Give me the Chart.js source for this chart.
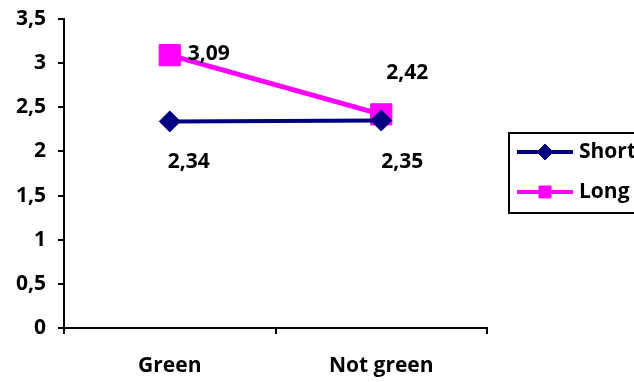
<!DOCTYPE html>
<html>
<head>
<meta charset="utf-8">
<script src="https://cdn.jsdelivr.net/npm/chart.js@4"></script>
<style>
  html, body { margin: 0; padding: 0; background: #fff; }
  #wrap { width: 634px; height: 382px; position: relative; }
</style>
</head>
<body>
<div id="wrap"><canvas id="c" width="634" height="382"></canvas></div>
<script>
// Categories and series values
const categories = ['Green', 'Not green'];
const shortValues = [2.34, 2.35];
const longValues = [3.09, 2.42];
const seriesNames = ['Short', 'Long'];
const yTicks = [0, 0.5, 1, 1.5, 2, 2.5, 3, 3.5];

const NAVY = '#000080';
const MAGENTA = '#FF00FF';
const FONT = { family: '"Open Sans", sans-serif', weight: 'bold', size: 21 };

const fmt = v => String(v).replace('.', ',');

// Value labels drawn beside each point (offsets in pixels from the point)
const labelOffsets = [
  [[19, 41], [21, 41]],
  [[39, -1], [26, -41]]
];

const valueLabels = {
  id: 'valueLabels',
  afterDatasetsDraw(chart) {
    const ctx = chart.ctx;
    ctx.save();
    ctx.font = `${FONT.weight} ${FONT.size}px ${FONT.family}`;
    ctx.fillStyle = '#000';
    ctx.textAlign = 'center';
    ctx.textBaseline = 'middle';
    chart.data.datasets.forEach((ds, di) => {
      const meta = chart.getDatasetMeta(di);
      meta.data.forEach((pt, i) => {
        const [dx, dy] = labelOffsets[di][i];
        ctx.fillText(fmt(ds.data[i]), pt.x + dx, pt.y + dy);
      });
    });
    ctx.restore();
  }
};

// Boxed legend with line + marker samples
const boxLegend = {
  id: 'boxLegend',
  afterDraw(chart) {
    const ctx = chart.ctx;
    ctx.save();
    ctx.strokeStyle = '#000';
    ctx.lineWidth = 2;
    ctx.strokeRect(509, 133, 140, 80);
    const rows = [
      { y: 152, color: NAVY, style: 'rectRot', r: 8, lw: 4 },
      { y: 192, color: MAGENTA, style: 'rect', r: 8.5, lw: 4 }
    ];
    rows.forEach((row, i) => {
      ctx.strokeStyle = row.color;
      ctx.lineWidth = row.lw;
      ctx.beginPath();
      ctx.moveTo(517, row.y);
      ctx.lineTo(573, row.y);
      ctx.stroke();
      ctx.fillStyle = row.color;
      ctx.strokeStyle = row.color;
      ctx.lineWidth = 1;
      Chart.helpers.drawPoint(ctx, { pointStyle: row.style, radius: row.r, rotation: 0, borderWidth: 1 }, 545, row.y);
      ctx.fillStyle = '#000';
      ctx.font = `${FONT.weight} ${FONT.size}px ${FONT.family}`;
      ctx.textAlign = 'left';
      ctx.textBaseline = 'middle';
      ctx.fillText(seriesNames[i], 579, row.y);
    });
    ctx.restore();
  }
};

new Chart(document.getElementById('c'), {
  type: 'line',
  data: {
    labels: categories,
    datasets: [
      {
        label: seriesNames[0],
        data: shortValues,
        borderColor: NAVY,
        backgroundColor: NAVY,
        borderWidth: 4,
        pointStyle: 'rectRot',
        pointRadius: 10.5,
        pointBorderWidth: 1,
        pointBackgroundColor: NAVY,
        pointBorderColor: NAVY,
        tension: 0
      },
      {
        label: seriesNames[1],
        data: longValues,
        borderColor: MAGENTA,
        backgroundColor: MAGENTA,
        borderWidth: 5,
        pointStyle: 'rect',
        pointRadius: 15,
        pointBorderWidth: 1,
        pointBackgroundColor: MAGENTA,
        pointBorderColor: MAGENTA,
        tension: 0
      }
    ]
  },
  options: {
    responsive: false,
    animation: false,
    devicePixelRatio: 1,
    layout: { padding: { left: 0, right: 147, top: 19, bottom: 0 } },
    plugins: { legend: { display: false }, tooltip: { enabled: false } },
    scales: {
      x: {
        offset: true,
        grid: { display: true, drawOnChartArea: false, drawTicks: true, tickLength: 6, color: '#000', lineWidth: 2, offset: true },
        border: { display: true, color: '#000', width: 2 },
        ticks: { color: '#000', font: FONT, padding: 19, maxRotation: 0 },
        afterFit(s) { s.height = 54; s.paddingLeft = 0; s.paddingRight = 0; }
      },
      y: {
        min: 0,
        max: 3.5,
        afterBuildTicks(s) { s.ticks = yTicks.map(v => ({ value: v })); },
        grid: { display: true, drawOnChartArea: false, drawTicks: true, tickLength: 6, color: '#000', lineWidth: 2 },
        border: { display: true, color: '#000', width: 2 },
        ticks: { color: '#000', font: FONT, padding: 12, callback: v => fmt(v) },
        afterFit(s) { s.width = 64; s.paddingTop = 0; s.paddingBottom = 0; }
      }
    }
  },
  plugins: [valueLabels, boxLegend]
});
</script>
</body>
</html>
